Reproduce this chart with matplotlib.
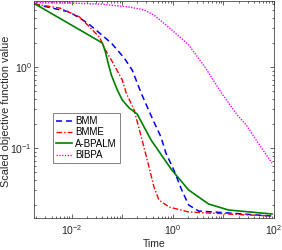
import numpy as np
import matplotlib
matplotlib.use("Agg")
import matplotlib.pyplot as plt
from matplotlib.ticker import LogLocator, FuncFormatter, NullFormatter

plt.rcParams['font.family'] = ['Liberation Sans', 'DejaVu Sans']
plt.rcParams['mathtext.fontset'] = 'custom'
plt.rcParams['mathtext.rm'] = 'Liberation Sans'
plt.rcParams['mathtext.it'] = 'Liberation Sans:italic'

# log10(time), log10(value)
bmm_lt = [-2.745, -2.039, -1.686, -1.451, -1.216, -0.961, -0.804, -0.627, -0.392, -0.235, -0.137, 0.020, 0.176, 0.314, 0.510, 1.098, 1.961]
bmm_lv = [0.778, 0.679, 0.543, 0.420, 0.296, 0.111, -0.037, -0.321, -0.654, -0.864, -1.062, -1.272, -1.519, -1.704, -1.778, -1.802, -1.840]

bmme_lt = [-2.745, -2.235, -1.843, -1.647, -1.451, -1.333, -1.216, -1.000, -0.922, -0.765, -0.608, -0.471, -0.373, -0.275, -0.078, 0.314, 1.098, 1.961]
bmme_lv = [0.778, 0.728, 0.617, 0.494, 0.370, 0.210, 0.086, -0.160, -0.321, -0.531, -0.901, -1.235, -1.481, -1.642, -1.728, -1.790, -1.815, -1.840]

abpalm_lt = [-2.745, -1.392, -1.333, -1.275, -1.216, -1.098, -1.000, -0.863, -0.706, -0.431, -0.020, 0.314, 0.706, 1.098, 1.961]
abpalm_lv = [0.786, 0.296, 0.185, 0.037, -0.099, -0.284, -0.407, -0.506, -0.580, -0.901, -1.272, -1.519, -1.691, -1.765, -1.815]

bibpa_lt = [-2.745, -2.039, -1.451, -0.863, -0.569, -0.373, -0.020, 0.314, 0.647, 0.961, 1.275, 1.451, 1.686, 1.961]
bibpa_lv = [0.796, 0.790, 0.778, 0.741, 0.704, 0.642, 0.457, 0.272, -0.012, -0.321, -0.593, -0.716, -0.938, -1.185]

labels = ['BMM', 'BMME', 'A-BPALM', 'BIBPA']

def p(a):
    return 10 ** np.array(a)

fig = plt.figure(figsize=(2.82, 2.5), dpi=100)
ax = fig.add_axes([34/282, 1 - 218/250, (274-34)/282, (218-1)/250])

ax.plot(p(bmm_lt), p(bmm_lv), color='#0000ff', ls=(0, (4, 2.5)), lw=1.1, label=labels[0])
ax.plot(p(bmme_lt), p(bmme_lv), color='#ff0000', ls=(0, (4, 1.5, 1, 1.5)), lw=1.0, label=labels[1])
ax.plot(p(abpalm_lt), p(abpalm_lv), color='#007f00', ls='-', lw=1.2, label=labels[2])
ax.plot(p(bibpa_lt), p(bibpa_lv), color='#ff00ff', ls=(0, (1, 1)), lw=1.0, label=labels[3])

ax.set_xscale('log')
ax.set_yscale('log')
ax.set_xlim(10**-2.745, 10**2.0)
ax.set_ylim(10**-1.864, 10**0.815)

ax.xaxis.set_major_locator(LogLocator(base=10, numticks=20))
ax.xaxis.set_minor_locator(LogLocator(base=10, subs=np.arange(2, 10), numticks=20))
def xfmt(v, pos):
    e = int(round(np.log10(v)))
    if e % 2 == 0:
        return r'$\mathdefault{10^{%d}}$' % e
    return ''
ax.xaxis.set_major_formatter(FuncFormatter(xfmt))
ax.xaxis.set_minor_formatter(NullFormatter())
ax.yaxis.set_major_locator(LogLocator(base=10, numticks=20))
ax.yaxis.set_minor_locator(LogLocator(base=10, subs=np.arange(2, 10), numticks=20))
ax.yaxis.set_minor_formatter(NullFormatter())

ax.tick_params(which='both', direction='in', top=True, right=True, colors='0.15', labelsize=7.5)
ax.tick_params(which='major', length=3, width=0.5)
ax.tick_params(which='minor', length=1.5, width=0.5)
ax.tick_params(axis='y', which='major', pad=1.5)
for s in ax.spines.values():
    s.set_color('0.15')
    s.set_linewidth(0.5)

ax.set_xlabel('Time', fontsize=7.5, color='0.15', labelpad=2)
ax.set_ylabel('Scaled objective function value', fontsize=7.8, color='0.15')
ax.yaxis.set_label_coords(-0.097, 0.49)

leg = ax.legend(loc='upper left', bbox_to_anchor=((53-34)/240, 1 - (113-1)/217), fontsize=7,
                frameon=True, fancybox=False, edgecolor='0.15', handlelength=1.7,
                handletextpad=0.3, borderpad=0.3, labelspacing=0.15, borderaxespad=0)
leg.get_frame().set_linewidth(0.5)

fig.savefig('out.png', dpi=100)
